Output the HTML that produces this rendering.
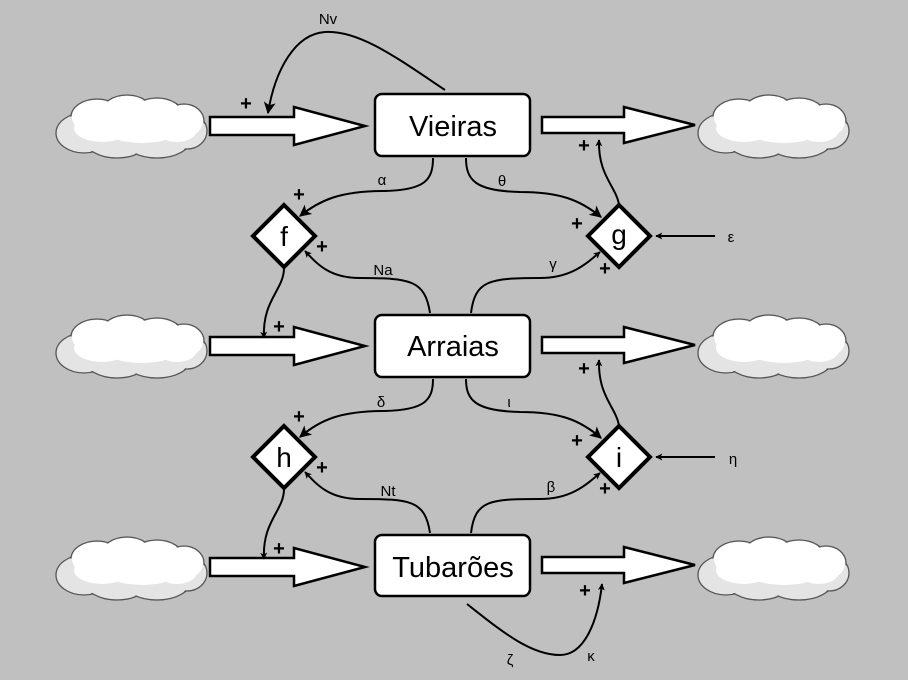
<!DOCTYPE html>
<html><head><meta charset="utf-8"><style>
html,body{margin:0;padding:0;background:#c0c0c0;}
svg{display:block;}
text{font-family:"Liberation Sans",sans-serif;fill:#000;}
</style></head><body>
<svg width="908" height="680" viewBox="0 0 908 680" xmlns="http://www.w3.org/2000/svg">
<defs>
<marker id="a" viewBox="0 0 10 10" refX="9" refY="5" markerWidth="7" markerHeight="7" orient="auto" markerUnits="userSpaceOnUse">
<path d="M0,0 L10,5 L0,10 L2.5,5 Z" fill="#000"/></marker>
<marker id="b" viewBox="0 0 10 10" refX="9" refY="5" markerWidth="12" markerHeight="12" orient="auto" markerUnits="userSpaceOnUse">
<path d="M0,0 L10,5 L0,10 L2.5,5 Z" fill="#000"/></marker>
<g id="cloud">
<g fill="#e4e4e4" stroke="#555" stroke-width="1.3">
<ellipse cx="-48" cy="8" rx="28" ry="20"/>
<ellipse cx="-15" cy="15" rx="32" ry="18"/>
<ellipse cx="25" cy="14" rx="34" ry="19"/>
<ellipse cx="55" cy="6" rx="20" ry="18"/>
<ellipse cx="-35" cy="-8" rx="26" ry="18"/>
<ellipse cx="-5" cy="-12" rx="26" ry="18"/>
<ellipse cx="25" cy="-10" rx="26" ry="17"/>
<ellipse cx="52" cy="-4" rx="20" ry="17"/>
</g>
<g fill="#e4e4e4">
<ellipse cx="-48" cy="8" rx="27" ry="19"/>
<ellipse cx="-15" cy="15" rx="31" ry="17"/>
<ellipse cx="25" cy="14" rx="33" ry="18"/>
<ellipse cx="55" cy="6" rx="19" ry="17"/>
</g>
<g fill="#fff">
<ellipse cx="-35" cy="-8" rx="25" ry="17"/>
<ellipse cx="-5" cy="-12" rx="25" ry="17"/>
<ellipse cx="25" cy="-10" rx="25" ry="16"/>
<ellipse cx="52" cy="-4" rx="19" ry="16"/>
<ellipse cx="-30" cy="3" rx="28" ry="14"/>
<ellipse cx="10" cy="4" rx="38" ry="14"/>
<ellipse cx="45" cy="5" rx="20" ry="12"/>
</g>
</g>
<path id="la" d="M210,117 H294 V107 L365,126 L294,145 V135 H210 Z" fill="#fff" stroke="#000" stroke-width="2.5"/>
<path id="ra" d="M542,117 H624 V107 L695,125 L624,143 V133 H542 Z" fill="#fff" stroke="#000" stroke-width="2.5"/>
</defs>

<!-- clouds -->
<use href="#cloud" x="132" y="125"/>
<use href="#cloud" x="774" y="125"/>
<use href="#cloud" x="132" y="345"/>
<use href="#cloud" x="774" y="345"/>
<use href="#cloud" x="132" y="567"/>
<use href="#cloud" x="774" y="567"/>

<!-- big arrows -->
<use href="#la" y="0"/><use href="#ra" y="0"/>
<use href="#la" y="220"/><use href="#ra" y="220"/>
<use href="#la" y="441"/><use href="#ra" y="440"/>

<!-- boxes -->
<g fill="#fff" stroke="#000" stroke-width="2.5">
<rect x="375" y="94" width="155" height="62" rx="7"/>
<rect x="375" y="315" width="155" height="62" rx="7"/>
<rect x="375" y="535" width="155" height="61" rx="7"/>
</g>
<g font-size="29" text-anchor="middle">
<text x="453" y="136">Vieiras</text>
<text x="453" y="356">Arraias</text>
<text x="453" y="577">Tubarões</text>
</g>

<!-- diamonds -->
<g fill="#fff" stroke="#000" stroke-width="4">
<path d="M284,205 L315,236 L284,267 L253,236 Z"/>
<path d="M619,205 L650,236 L619,267 L588,236 Z"/>
<path d="M284,426 L315,457 L284,488 L253,457 Z"/>
<path d="M619,426 L650,457 L619,488 L588,457 Z"/>
</g>
<g font-size="28" text-anchor="middle">
<text x="284" y="246">f</text>
<text x="619" y="244">g</text>
<text x="284" y="467">h</text>
<text x="619" y="467">i</text>
</g>

<!-- connectors -->
<g fill="none" stroke="#000" stroke-width="2">
<path d="M445,90 C400,60 360,30 325,32 C295,34 275,70 268,113" marker-end="url(#b)"/>
<path d="M433,158 C433,180 425,190 385,191 C340,191 320,200 300,216" marker-end="url(#b)"/>
<path d="M466,158 C466,180 475,191 520,192 C560,192 580,200 601,217" marker-end="url(#b)"/>
<path d="M430,313 C425,280 410,278 360,278 C330,278 318,265 305,251" marker-end="url(#a)"/>
<path d="M471,313 C475,280 490,278 540,278 C570,278 585,265 600,252" marker-end="url(#a)"/>
<path d="M619,204 C615,185 598,175 599,140" marker-end="url(#a)"/>
<path d="M284,268 C284,290 262,300 264,338" marker-end="url(#a)"/>

<path d="M433,379 C433,400 425,410 385,411 C340,411 320,420 300,437" marker-end="url(#b)"/>
<path d="M466,379 C466,400 475,411 520,412 C560,412 580,420 601,438" marker-end="url(#b)"/>
<path d="M430,533 C425,500 410,499 360,499 C330,499 318,486 305,472" marker-end="url(#a)"/>
<path d="M471,533 C475,500 490,499 540,499 C570,499 585,486 600,473" marker-end="url(#a)"/>
<path d="M619,425 C615,406 598,396 599,360" marker-end="url(#a)"/>
<path d="M284,489 C284,511 262,521 264,559" marker-end="url(#a)"/>

<path d="M467,604 C500,630 530,655 560,655 C585,655 598,620 602,584" marker-end="url(#a)"/>
<path d="M715,236 H656" marker-end="url(#a)"/>
<path d="M715,457 H656" marker-end="url(#a)"/>
</g>

<!-- labels -->
<g font-size="15" text-anchor="middle">
<text x="328" y="24">Nv</text>
<text x="382" y="185">α</text>
<text x="502" y="186">θ</text>
<text x="383" y="275">Na</text>
<text x="553" y="269">γ</text>
<text x="731" y="242">ε</text>
<text x="381" y="407">δ</text>
<text x="509" y="407">ι</text>
<text x="388" y="496">Nt</text>
<text x="551" y="492">β</text>
<text x="733" y="464">η</text>
<text x="510" y="665">ζ</text>
<text x="591" y="661">κ</text>
</g>
<g font-size="20" font-weight="bold" text-anchor="middle">
<text x="246" y="110">+</text>
<text x="299" y="201">+</text>
<text x="322" y="253">+</text>
<text x="577" y="230">+</text>
<text x="605" y="275">+</text>
<text x="584" y="152">+</text>
<text x="279" y="333">+</text>
<text x="299" y="423">+</text>
<text x="322" y="474">+</text>
<text x="577" y="447">+</text>
<text x="605" y="495">+</text>
<text x="584" y="375">+</text>
<text x="279" y="555">+</text>
<text x="585" y="597">+</text>
</g>
</svg>
</body></html>
